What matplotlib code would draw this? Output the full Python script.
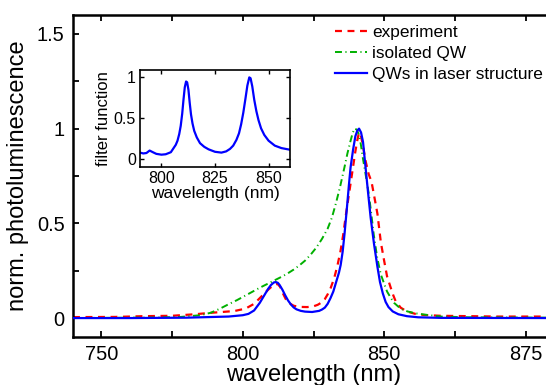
import matplotlib
matplotlib.use("Agg")
import matplotlib.pyplot as plt
from matplotlib.ticker import FixedLocator, FixedFormatter

plt.rcParams['font.family'] = ['Liberation Sans', 'DejaVu Sans']
plt.rcParams['lines.scale_dashes'] = False

# ---- data ----
wl_exp = [740, 755, 765, 775, 783, 789, 797, 801, 804, 806, 807.4, 809, 810.5, 811.5, 812.3, 813.2,
          814.2, 815.2, 816.5, 818, 820, 822.8, 825, 826.5, 827.6, 829, 830, 831.1, 832.3, 833.5,
          834.5, 835.5, 836.5, 837.3, 838.1, 839, 839.8, 840.5, 841.1, 841.8, 842.6, 843.4, 844.5,
          845.5, 846.5, 847.6, 848.8, 850, 851, 852.3, 853.2, 854, 855.8, 858, 861, 864, 870, 880,
          890, 910]
pl_exp = [0.005, 0.006, 0.01, 0.012, 0.02, 0.028, 0.037, 0.05, 0.075, 0.105, 0.126, 0.15, 0.17,
          0.178, 0.18, 0.165, 0.13, 0.1, 0.078, 0.065, 0.059, 0.058, 0.062, 0.07, 0.08, 0.1, 0.125,
          0.16, 0.21, 0.28, 0.35, 0.44, 0.55, 0.63, 0.71, 0.80, 0.88, 0.94, 0.98, 0.96, 0.9, 0.83,
          0.76, 0.72, 0.64, 0.55, 0.40, 0.30, 0.22, 0.16, 0.12, 0.09, 0.055, 0.035, 0.022, 0.016,
          0.012, 0.01, 0.008, 0.008]

wl_iso = [740, 770, 778, 785, 788.7, 792, 794.6, 798, 801.7, 806, 808, 810, 812, 814, 816, 818, 820,
          822, 824, 826, 828, 830, 831.5, 833, 834.5, 836, 837, 838, 838.8, 839.5, 840.3, 841,
          841.7, 842.5, 843.4, 844.6, 845.5, 846.3, 847.5, 848.8, 850, 851, 852.3, 853.5, 855,
          856.5, 858.2, 861, 865, 870, 880, 910]
pl_iso = [0.0, 0.003, 0.006, 0.015, 0.028, 0.05, 0.07, 0.095, 0.125, 0.16, 0.175, 0.19, 0.205,
          0.22, 0.237, 0.256, 0.278, 0.303, 0.335, 0.372, 0.418, 0.472, 0.53, 0.61, 0.70, 0.80, 0.87,
          0.93, 0.975, 1.0, 0.995, 0.97, 0.92, 0.84, 0.76, 0.65, 0.54, 0.44, 0.32, 0.23, 0.18, 0.14,
          0.107, 0.08, 0.06, 0.045, 0.035, 0.025, 0.017, 0.008, 0.004, 0.002]

wl_las = [740, 760, 780, 795, 800, 802, 804, 806, 807, 808, 809, 810, 811, 811.7, 812.4, 813, 814,
          815, 816, 817, 818, 819, 820.5, 822, 824.5, 827, 828, 829, 830, 831, 832, 833, 834, 834.6,
          835.3, 836, 836.8, 837.5, 838.1, 839, 839.8, 840.5, 841.1, 841.8, 842.5, 843.4, 844.3,
          845.2, 846.4, 847.6, 848.5, 849.5, 850.5, 851.5, 853, 855, 858, 862, 870, 910]
pl_las = [0.0, 0.0, 0.002, 0.008, 0.015, 0.022, 0.04, 0.08, 0.105, 0.13, 0.155, 0.175, 0.188,
          0.19, 0.186, 0.175, 0.15, 0.12, 0.093, 0.072, 0.056, 0.046, 0.038, 0.034, 0.032, 0.038,
          0.045, 0.055, 0.075, 0.105, 0.14, 0.19, 0.24, 0.28, 0.35, 0.45, 0.58, 0.70, 0.795, 0.89,
          0.96, 0.99, 1.0, 0.98, 0.93, 0.795, 0.66, 0.53, 0.39, 0.27, 0.19, 0.13, 0.085, 0.058,
          0.035, 0.02, 0.01, 0.004, 0.001, 0.0]

wl_filt = [790, 791.5, 793, 794.5, 796, 797.6, 800, 802, 804.4, 806.7, 807.5, 808.3, 809, 809.7,
           810.3, 810.9, 811.5, 812, 812.6, 813.2, 813.8, 814.5, 815.3, 816.5, 818, 820, 822, 825,
           828, 830.2, 832, 833.5, 835, 836.2, 837.2, 838.2, 839.2, 840.1, 841, 841.6, 842.4,
           843.3, 844.3, 845.3, 846.5, 848, 850, 852.9, 856, 860]
filt = [0.075, 0.065, 0.07, 0.10, 0.08, 0.06, 0.05, 0.055, 0.08, 0.17, 0.22, 0.30, 0.40, 0.55, 0.72,
        0.87, 0.94, 0.93, 0.84, 0.68, 0.54, 0.43, 0.34, 0.26, 0.19, 0.145, 0.115, 0.085, 0.075,
        0.09, 0.12, 0.16, 0.23, 0.31, 0.42, 0.56, 0.73, 0.89, 0.99, 0.98, 0.88, 0.72, 0.58, 0.47,
        0.37, 0.29, 0.22, 0.16, 0.13, 0.11]

labels = ["experiment", "isolated QW", "QWs in laser structure"]
x_ticks = [750, 775, 800, 825, 850, 875, 900]
x_ticklabels = ["750", "", "800", "", "850", "", "875"]
y_ticks = [0, 0.25, 0.5, 0.75, 1.0, 1.25, 1.5]
y_ticklabels = ["0", "", "0.5", "", "1", "", "1.5"]
inset_xticks = [800, 825, 850]
inset_yticks = [0, 0.5, 1]

W, H = 546, 385
fig = plt.figure(figsize=(W / 100, H / 100), dpi=100)

ax = fig.add_axes([73 / W, 48 / H, 481 / W, 322 / H])
ax.plot(wl_exp, pl_exp, color='#ff0000', lw=1.6, linestyle=(0, (5, 4)), label=labels[0], zorder=2)
ax.plot(wl_iso, pl_iso, color='#00b000', lw=1.4, linestyle=(0, (5, 2.5, 0.8, 2.5)), label=labels[1], zorder=3)
ax.plot(wl_las, pl_las, color='#0000ff', lw=1.6, label=labels[2], zorder=4)
ax.set_xlim(740, 910)
ax.set_ylim(-0.1, 1.6)
ax.xaxis.set_major_locator(FixedLocator(x_ticks))
ax.xaxis.set_major_formatter(FixedFormatter(x_ticklabels))
ax.yaxis.set_major_locator(FixedLocator(y_ticks))
ax.yaxis.set_major_formatter(FixedFormatter(y_ticklabels))
ax.tick_params(direction='in', length=4, width=1.3, labelsize=14.4, top=True, right=True, pad=6)
for s in ax.spines.values():
    s.set_linewidth(1.8)
ax.set_xlabel("wavelength (nm)", fontsize=17, labelpad=0)
ax.set_ylabel("norm. photoluminescence", fontsize=17, labelpad=6)

leg = ax.legend(loc='upper left', bbox_to_anchor=(335 / W, 1 - 25 / H), bbox_transform=fig.transFigure,
                frameon=False, fontsize=12.4, borderpad=0, borderaxespad=0, handlelength=1.86,
                handletextpad=0.3, labelspacing=0.33)

ins = fig.add_axes([140 / W, 218 / H, 150 / W, 97 / H])
ins.plot(wl_filt, filt, color='#0000ff', lw=1.6)
ins.set_xlim(790, 860)
ins.set_ylim(-0.1, 1.08)
ins.set_xticks(inset_xticks)
ins.set_yticks(inset_yticks)
ins.set_yticklabels(["0", "0.5", "1"])
ins.tick_params(direction='in', length=3, width=1.0, labelsize=11.5, top=True, right=True, pad=3)
for s in ins.spines.values():
    s.set_linewidth(1.2)
ins.set_xlabel("wavelength (nm)", fontsize=12.5, labelpad=0)
ins.set_ylabel("filter function", fontsize=12, labelpad=2)

fig.savefig("out.png", dpi=100)
